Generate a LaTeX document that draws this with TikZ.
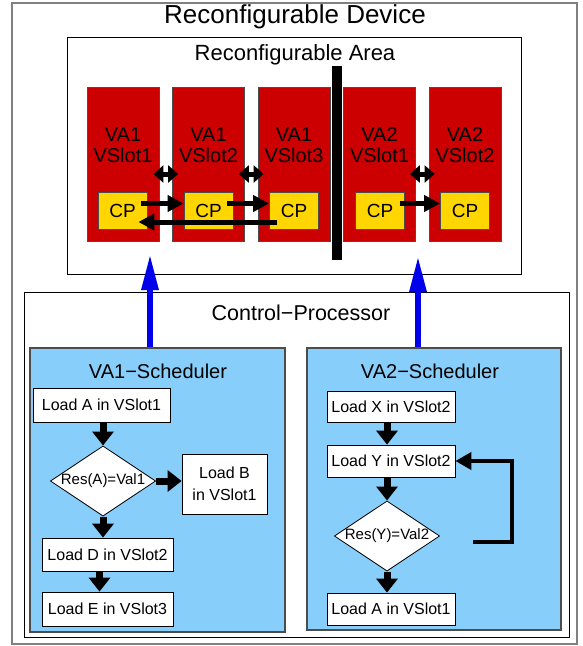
\documentclass[tikz,border=0pt]{standalone}
\usepackage{fontspec}
\setmainfont{Liberation Sans}
\usetikzlibrary{arrows.meta,shapes.geometric,positioning}

\definecolor{slotred}{RGB}{204,0,0}
\definecolor{cpyellow}{RGB}{255,214,0}
\definecolor{schedblue}{RGB}{135,206,250}
\definecolor{arrowblue}{RGB}{0,0,235}

\tikzset{
	frame/.style={draw=black,line width=0.8pt,fill=white,inner sep=0pt},
	slot/.style={draw=black!70,line width=0.8pt,fill=slotred,minimum width=72pt,minimum height=154pt,inner sep=0pt},
	slottext/.style={align=center,font=\fontsize{20}{21}\selectfont},
	cpbox/.style={draw=black!70,line width=0.8pt,fill=cpyellow,minimum width=49pt,minimum height=37pt,inner sep=0pt,font=\fontsize{19}{19}\selectfont},
	sched/.style={draw=black!70,line width=1.2pt,fill=schedblue,inner sep=0pt},
	flowbox/.style={draw=black,line width=0.8pt,fill=white,minimum height=33pt,inner sep=0pt,align=center,font=\fontsize{16}{22}\selectfont},
	test/.style={diamond,draw=black,line width=0.8pt,fill=white,aspect=1.5,inner sep=0pt,font=\fontsize{15}{15}\selectfont},
	cparrow/.style={line width=5pt,-{Triangle[length=16pt,width=16pt]}},
	swaparrow/.style={line width=5pt,{Triangle[length=10pt,width=17pt]}-{Triangle[length=10pt,width=17pt]},shorten <=-6pt,shorten >=-6pt},
	flowarrow/.style={line width=7pt,-{Triangle[length=14pt,width=21pt]}},
	backarrow/.style={line width=4pt,-{Triangle[length=16pt,width=17pt]}},
	uparrow/.style={draw=arrowblue!60!black,line width=6pt,color=arrowblue,-{Triangle[length=36pt,width=16pt]}}
}

\begin{document}
\begin{tikzpicture}[x=1pt,y=-1pt]
	\useasboundingbox (0,0) rectangle (583,646);
	
	\node (dev)[draw=gray,line width=1.5pt,minimum width=565pt,minimum height=641pt,inner sep=0pt] at (294.5,323.5) {};
	\node (devT) at (295,17) {\fontsize{26}{26}\selectfont Reconfigurable Device};
	
	\node (area)[frame,minimum width=454pt,minimum height=237pt] at (294,155.5) {};
	\node (areaT) at (295,55) {\fontsize{22}{22}\selectfont Reconfigurable Area};
	
	\node (s11)[slot] at (123,164) {};
	\node (s12)[slot] at (208.5,164) {};
	\node (s13)[slot] at (294,164) {};
	\node (s21)[slot] at (379.5,164) {};
	\node (s22)[slot] at (465,164) {};
	
	\node (t11)[slottext] at (123,145) {VA1\\VSlot1};
	\node (t12)[slottext] at (208.5,145) {VA1\\VSlot2};
	\node (t13)[slottext] at (294,145) {VA1\\VSlot3};
	\node (t21)[slottext] at (379.5,145) {VA2\\VSlot1};
	\node (t22)[slottext] at (465,145) {VA2\\VSlot2};
	
	\node (cp11)[cpbox] at (122.5,210.5) {CP};
	\node (cp12)[cpbox] at (208.5,210.5) {CP};
	\node (cp13)[cpbox] at (294,210.5) {CP};
	\node (cp21)[cpbox] at (380,210.5) {CP};
	\node (cp22)[cpbox] at (465,210.5) {CP};
	
	\node (bar)[fill=black,minimum width=10pt,minimum height=194pt,inner sep=0pt] at (337,163) {};
	
	\draw[swaparrow] ([yshift=-10pt]s11.east) -- ([yshift=-10pt]s12.west);
	\draw[swaparrow] ([yshift=-10pt]s12.east) -- ([yshift=-10pt]s13.west);
	\draw[swaparrow] ([yshift=-10pt]s21.east) -- ([yshift=-10pt]s22.west);
	
	\draw[cparrow] ([xshift=-6pt,yshift=7pt]cp11.east) -- ([yshift=7pt]cp12.west);
	\draw[cparrow] ([xshift=-6pt,yshift=7pt]cp12.east) -- ([yshift=7pt]cp13.west);
	\draw[cparrow] ([xshift=-5pt,yshift=7pt]cp21.east) -- ([yshift=7pt]cp22.west);
	\draw[cparrow] ([xshift=8pt,yshift=-11.5pt]cp13.west) -- ([xshift=-9pt,yshift=-11.5pt]cp11.east);
	
	\node (ctrl)[frame,minimum width=545pt,minimum height=345pt] at (296.5,464.5) {};
	\node (ctrlT) at (301,313) {\fontsize{21.5}{21.5}\selectfont Control\textminus Processor};
	
	\node (sched1)[sched,minimum width=255pt,minimum height=284pt] at (157.5,490) {};
	\node (sched1T) at (158,371) {\fontsize{20}{20}\selectfont VA1\textminus Scheduler};
	\node (sched2)[sched,minimum width=254pt,minimum height=282pt] at (434,489) {};
	\node (sched2T) at (430,371) {\fontsize{20}{20}\selectfont VA2\textminus Scheduler};
	
	\coordinate (tip1) at (150,254);
	\coordinate (tip2) at (418,256);
	\draw[uparrow] (sched1.north -| tip1) -- (tip1);
	\draw[uparrow] (sched2.north -| tip2) -- (tip2);
	
	\node (loadA)[flowbox,minimum width=137pt,minimum height=34pt] at (101.5,405) {Load A in VSlot1};
	\node (test1)[test] at (103,481) {Res(A)=Val1};
	\node (loadB)[flowbox,minimum width=85pt,minimum height=60pt] at (224.5,484) {Load B\\in VSlot1};
	\node (loadD)[flowbox,minimum width=131pt] at (107.5,554.5) {Load D in VSlot2};
	\node (loadE)[flowbox,minimum width=131pt,minimum height=34pt] at (107.5,609) {Load E in VSlot3};
	
	\draw[flowarrow] (loadA.south -| test1.north) -- (test1.north);
	\draw[flowarrow] (test1.east) -- (test1.east -| loadB.west);
	\draw[flowarrow] (test1.south) -- (test1.south |- loadD.north);
	\draw[flowarrow] ([xshift=-8pt]loadD.south) -- ([xshift=-8pt]loadE.north);
	
	\node (loadX)[flowbox,minimum width=128pt,minimum height=31pt] at (391,406.5) {Load X in VSlot2};
	\node (loadY)[flowbox,minimum width=128pt,minimum height=32pt] at (391,461) {Load Y in VSlot2};
	\node (test2)[test] at (387,536) {Res(Y)=Val2};
	\node (loadA2)[flowbox,minimum width=128pt,minimum height=32pt] at (391,609) {Load A in VSlot1};
	
	\draw[flowarrow] (loadX.south -| test2.north) -- (loadY.north -| test2.north);
	\draw[flowarrow] (loadY.south -| test2.north) -- (test2.north);
	\draw[flowarrow] (test2.south) -- (test2.south |- loadA2.north);
	
	\coordinate (fb) at (473,542);
	\draw[backarrow] (fb) -- ++(39,0) |- (loadY.east);
\end{tikzpicture}
\end{document}
